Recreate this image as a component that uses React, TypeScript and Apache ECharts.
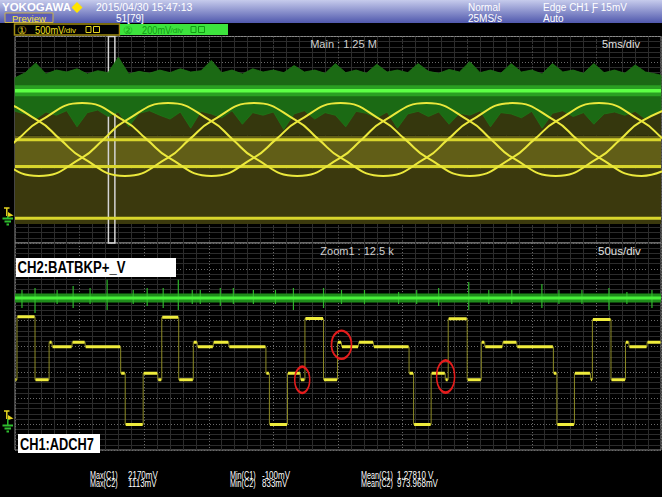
import React, { useEffect, useRef } from "react";
import * as echarts from "echarts";

// ---------------- MAIN WINDOW (5 ms/div, 1.25 M) ----------------
// CH1 (500 mV/div) three-phase envelope traces, [time ms, mV]
const phaseA = [[-4.8, 780], [-1.5, 1133], [0.2, 1487], [1.9, 1840], [5.2, 2190], [8.5, 1840], [10.2, 1487], [11.9, 1133], [15.2, 780], [18.5, 1133], [20.2, 1487], [21.9, 1840], [25.2, 2190], [28.5, 1840], [30.2, 1487], [31.9, 1133], [35.2, 780], [38.5, 1133], [40.2, 1487], [41.9, 1840], [45.2, 2190], [48.5, 1840], [50.2, 1487], [51.9, 1133]];
const phaseB = [[-8.15, 2190], [-4.8, 1840], [-3.15, 1487], [-1.5, 1133], [1.85, 780], [5.2, 1133], [6.85, 1487], [8.5, 1840], [11.85, 2190], [15.2, 1840], [16.85, 1487], [18.5, 1133], [21.85, 780], [25.2, 1133], [26.85, 1487], [28.5, 1840], [31.85, 2190], [35.2, 1840], [36.85, 1487], [38.5, 1133], [41.85, 780], [45.2, 1133], [46.85, 1487], [48.5, 1840], [51.85, 2190]];
const phaseC = [[-8.15, 1133], [-6.5, 1487], [-4.8, 1840], [-1.5, 2190], [1.85, 1840], [3.5, 1487], [5.2, 1133], [8.5, 780], [11.85, 1133], [13.5, 1487], [15.2, 1840], [18.5, 2190], [21.85, 1840], [23.5, 1487], [25.2, 1133], [28.5, 780], [31.85, 1133], [33.5, 1487], [35.2, 1840], [38.5, 2190], [41.85, 1840], [43.5, 1487], [45.2, 1133], [48.5, 780], [51.85, 1133]];
// CH1 flat traces (mV)
const ch1MainLevels = [1480, 962, -40];
// CH1 olive envelope bands [low mV, high mV]
const ch1MainBands = [[-151, 917], [917, 1558], [1558, 2179]];
// CH2 (200 mV/div) in main window
const ch2MainLevel = 980;
const ch2MainEnvTimes = [0, 0.8, 1.6, 2.4, 3.2, 4.0, 4.8, 5.6, 6.4, 7.2, 8.0, 8.8, 9.6, 10.4, 11.2, 12.0, 12.8, 13.6, 14.4, 15.2, 16.0, 16.8, 17.6, 18.4, 19.2, 20.0, 20.8, 21.6, 22.4, 23.2, 24.0, 24.8, 25.6, 26.4, 27.2, 28.0, 28.8, 29.6, 30.4, 31.2, 32.0, 32.8, 33.6, 34.4, 35.2, 36.0, 36.8, 37.6, 38.4, 39.2, 40.0, 40.8, 41.6, 42.4, 43.2, 44.0, 44.8, 45.6, 46.4, 47.2, 48.0, 48.8, 49.6, 50.0];
const ch2MainEnvTop = [1080, 1120, 1195, 1110, 1140, 1125, 1150, 1110, 1135, 1120, 1240, 1110, 1130, 1115, 1140, 1120, 1150, 1125, 1135, 1215, 1120, 1140, 1110, 1150, 1125, 1140, 1120, 1175, 1125, 1140, 1115, 1190, 1120, 1140, 1115, 1185, 1125, 1140, 1120, 1190, 1130, 1115, 1145, 1125, 1205, 1120, 1140, 1115, 1190, 1125, 1140, 1110, 1190, 1125, 1140, 1115, 1190, 1120, 1140, 1115, 1180, 1125, 1110, 1100];
const ch2MainEnvBottom = [820, 800, 760, 815, 790, 825, 700, 810, 830, 780, 815, 700, 805, 825, 790, 760, 815, 690, 820, 800, 770, 825, 720, 810, 790, 815, 680, 800, 825, 760, 810, 790, 700, 820, 805, 770, 815, 690, 800, 820, 780, 815, 720, 805, 790, 825, 700, 810, 800, 770, 820, 690, 805, 825, 780, 810, 720, 800, 815, 790, 820, 760, 810, 815];
// zoom window position inside the main window (ms)
const zoomWindowMs = [7.23, 7.73];

// ---------------- ZOOM WINDOW (50 us/div, 12.5 k) ----------------
// CH1 staircase: level (mV) starting at each time (us)
const zoomStepTimes = [0, 1.55, 15.5, 26.4, 28.7, 44.2, 54.3, 81.8, 85.3, 99.2, 110.5, 113.6, 126.7, 138.0, 141.1, 153.5, 165.5, 194.2, 196.9, 210.9, 220.9, 224.4, 238.8, 249.6, 252.7, 265.9, 277.5, 305.0, 308.5, 322.1, 333.0, 335.3, 350.0, 360.9, 363.6, 377.5, 388.4, 416.7, 419.4, 433.0, 445.4, 446.9, 461.3, 472.5, 475.2, 489.2];
const zoomStepLevels = [756, 1975, 756, 1482, 1395, 1482, 1395, 882, -106, 882, 756, 1965, 756, 1482, 1395, 1482, 1395, 882, -106, 882, 756, 1940, 756, 1482, 1395, 1482, 1395, 882, -106, 882, 756, 1935, 756, 1482, 1395, 1482, 1395, 882, -106, 882, 756, 1920, 756, 1482, 1395, 1482];
// CH2 in zoom window
const ch2ZoomLevel = 975;
const ch2ZoomSpikeTimes = [5.4, 15.5, 32.6, 45.0, 58.1, 71.3, 91.5, 102.3, 114.7, 126.4, 137.2, 143.4, 158.9, 169.0, 184.5, 201.6, 215.5, 238.8, 252.7, 270.5, 296.9, 310.9, 327.9, 351.2, 366.7, 384.5, 407.8, 421.0, 438.8, 459.7, 473.6, 493.0];
const ch2ZoomSpikeUp = [62, 78, 62, 93, 78, 140, 62, 78, 78, 140, 62, 62, 78, 78, 62, 62, 78, 78, 62, 62, 46, 62, 78, 124, 62, 62, 109, 62, 62, 78, 46, 62];
const ch2ZoomSpikeDown = [78, 116, 46, 78, 46, 93, 46, 62, 78, 93, 46, 46, 62, 46, 46, 46, 93, 78, 46, 46, 46, 46, 62, 93, 46, 46, 78, 46, 46, 93, 46, 78];
// red marks [time us, mV, width px, height px]
const zoomMarks = [[222.3, 756, 15, 26], [252.7, 1434, 20, 28], [333.3, 820, 18, 32]];

// ---------------- TEXT ----------------
const statLabels = [["Max(C1)", "2170mV"], ["Max(C2)", "1113mV"], ["Min(C1)", "-100mV"], ["Min(C2)", "833mV"], ["Mean(C1)", "1.27810 V"], ["Mean(C2)", "973.968mV"]];

const FONT = "'Liberation Sans', Arial, sans-serif";

function txt(x: number, y: number, text: string, font: string, fill: string, extra: any = {}, el: any = {}) {
  return { type: "text", x, y, z: 100, silent: true, ...el, style: { text, fill, font: `${font} ${FONT}`, textVerticalAlign: "middle", ...extra } };
}

function groundMarker(y: number, gy: number) {
  return [
    { type: "polyline", z: 100, shape: { points: [[4, y - 8], [9.5, y - 8]] }, style: { stroke: "#e6d620", lineWidth: 1.5 } },
    { type: "polyline", z: 100, shape: { points: [[6.8, y - 8], [6.8, y]] }, style: { stroke: "#e6d620", lineWidth: 1.5 } },
    { type: "polygon", z: 100, shape: { points: [[8, y - 4], [13.5, y - 0.5], [8, y + 1]] }, style: { fill: "#e6d620" } },
    { type: "polyline", z: 100, shape: { points: [[2.5, gy + 1.5], [13, gy + 1.5]] }, style: { stroke: "#2fbf2f", lineWidth: 2 } },
    { type: "polyline", z: 100, shape: { points: [[4.5, gy + 4.5], [11, gy + 4.5]] }, style: { stroke: "#2fbf2f", lineWidth: 2 } },
    { type: "polyline", z: 100, shape: { points: [[6.5, gy + 7.5], [9, gy + 7.5]] }, style: { stroke: "#2fbf2f", lineWidth: 2 } },
    { type: "polyline", z: 100, shape: { points: [[7.8, y], [7.8, gy + 1.5]] }, style: { stroke: "#2fbf2f", lineWidth: 1.5 } },
  ];
}

function buildOption() {
  const majorLine = { show: true, lineStyle: { color: "#6a6a6a", type: [1, 2], width: 1 } };
  const minorLine = { show: true, lineStyle: { color: "#2c2c2c", width: 1 } };
  const hiddenBits = { axisLine: { show: false }, axisTick: { show: false }, axisLabel: { show: false } };

  // zoom staircase
  const stairs: any[] = [];
  const flats: any[] = [];
  zoomStepTimes.forEach((t, i) => {
    const end = i + 1 < zoomStepTimes.length ? zoomStepTimes[i + 1] : 500;
    stairs.push([t, zoomStepLevels[i]], [end, zoomStepLevels[i]]);
    flats.push([t + 0.4, zoomStepLevels[i]], [Math.max(t + 0.8, end - 0.4), zoomStepLevels[i]], [end, null]);
  });

  const spikes: any[] = [];
  ch2ZoomSpikeTimes.forEach((t, i) => {
    spikes.push([t, ch2ZoomLevel - ch2ZoomSpikeDown[i]], [t, ch2ZoomLevel + ch2ZoomSpikeUp[i]], [t, null]);
  });

  const levelLines: any[] = [];
  ch1MainLevels.forEach((v) => levelLines.push([0, v], [50, v], [50, null]));

  const bandColors = ["#3b390d", "#615e17", "#35370d"];

  const graphic: any[] = [
    {
      type: "rect", z: 90, shape: { x: 0, y: 0, width: 662, height: 23 },
      style: { fill: new echarts.graphic.LinearGradient(0, 0, 0, 1, [{ offset: 0, color: "#c6cbec" }, { offset: 1, color: "#5058ad" }]) },
    },
    txt(2, 7, "YOKOGAWA", "bold 11.5px", "#ffffff"),
    { type: "polygon", z: 100, shape: { points: [[77, 2], [82.5, 7.5], [77, 13], [71.5, 7.5]] }, style: { fill: "#ffe400" } },
    { type: "rect", z: 100, shape: { x: 5, y: 13, width: 48, height: 9.5 }, style: { fill: "#5a5cb8", stroke: "#c9b24a", lineWidth: 1 } },
    txt(12, 18, "Preview", "9.5px", "#f7e640"),
    txt(96, 7, "2015/04/30 15:47:13", "10.5px", "#ffffff"),
    txt(116, 18, "51[79]", "10px", "#ffffff"),
    txt(468, 7, "Normal", "10px", "#ffffff"),
    txt(468, 18, "25MS/s", "10px", "#ffffff"),
    txt(543, 7, "Edge CH1 Ƒ 15mV", "10px", "#ffffff"),
    txt(543, 18, "Auto", "10px", "#ffffff"),
    // channel boxes
    { type: "rect", z: 100, shape: { x: 14.5, y: 24, width: 105, height: 11 }, style: { fill: "#000000", stroke: "#a08c12", lineWidth: 1.5 } },
    txt(16.5, 29.8, "①", "11px", "#e8d820"),
    txt(35, 29.8, "500mV", "10.5px", "#f2e21e", {}, { scaleX: 0.88 }),
    txt(63.5, 30.5, "/div", "8px", "#f2e21e"),
    { type: "rect", z: 100, shape: { x: 86, y: 26.5, width: 5, height: 6 }, style: { fill: "none", stroke: "#e8d820", lineWidth: 1 } },
    { type: "rect", z: 100, shape: { x: 93.5, y: 26.5, width: 6, height: 6 }, style: { fill: "none", stroke: "#e8d820", lineWidth: 1 } },
    { type: "rect", z: 100, shape: { x: 120, y: 24, width: 108, height: 11 }, style: { fill: "#3de43d" } },
    txt(122.5, 29.8, "②", "11px", "#17a317"),
    txt(142, 29.8, "200mV", "10.5px", "#139a13", {}, { scaleX: 0.88 }),
    txt(170.5, 30.5, "/div", "8px", "#139a13"),
    { type: "rect", z: 100, shape: { x: 191, y: 26.5, width: 5, height: 6 }, style: { fill: "none", stroke: "#139a13", lineWidth: 1 } },
    { type: "rect", z: 100, shape: { x: 198.5, y: 26.5, width: 6, height: 6 }, style: { fill: "none", stroke: "#139a13", lineWidth: 1 } },
    // panel labels
    txt(343.5, 43.5, "Main : 1.25 M", "11px", "#cfcfcf", { textAlign: "center" }),
    txt(602, 44, "5ms/div", "11px", "#e2e2e2"),
    txt(357, 251, "Zoom1 : 12.5 k", "11px", "#cfcfcf", { textAlign: "center" }),
    txt(598, 251, "50us/div", "11.5px", "#e2e2e2"),
    // white signal labels
    { type: "rect", z: 100, shape: { x: 16, y: 258, width: 160, height: 19 }, style: { fill: "#ffffff" } },
    txt(17.5, 268, "CH2:BATBKP+_V", "bold 16px", "#000000", {}, { scaleX: 0.82 }),
    { type: "rect", z: 100, shape: { x: 18, y: 434, width: 82, height: 19 }, style: { fill: "#ffffff" } },
    txt(20, 444, "CH1:ADCH7", "bold 16px", "#000000", {}, { scaleX: 0.8 }),
    ...groundMarker(216, 217),
    ...groundMarker(419, 424),
  ];

  statLabels.forEach(([name, value], i) => {
    const col = Math.floor(i / 2);
    const row = i % 2;
    const xs = [[90, 128], [230, 262], [361, 397]][col];
    const y = row === 0 ? 475.5 : 483.5;
    graphic.push(txt(xs[0], y, name, "10px", "#ffffff", {}, { scaleX: 0.72 }));
    graphic.push(txt(xs[1], y, value, "10px", "#ffffff", {}, { scaleX: 0.8 }));
  });

  const base = { type: "line", symbol: "none", silent: true, animation: false };

  return {
    animation: false,
    backgroundColor: "#000000",
    grid: [
      { left: 15, top: 36.5, width: 646, height: 206.5, show: true, backgroundColor: "#000000", borderColor: "#8a8a8a", borderWidth: 1 },
      { left: 15, top: 243, width: 646, height: 207, show: true, backgroundColor: "#000000", borderColor: "#8a8a8a", borderWidth: 1 },
    ],
    xAxis: [
      { type: "value", gridIndex: 0, min: 0, max: 50, interval: 5, ...hiddenBits, splitLine: majorLine, minorTick: { show: false, splitNumber: 5 }, minorSplitLine: minorLine },
      { type: "value", gridIndex: 1, min: 0, max: 500, interval: 50, ...hiddenBits, splitLine: majorLine, minorTick: { show: false, splitNumber: 5 }, minorSplitLine: minorLine },
    ],
    yAxis: [
      { type: "value", gridIndex: 0, min: -200, max: 1400, interval: 200, ...hiddenBits, splitLine: majorLine, minorTick: { show: false, splitNumber: 5 }, minorSplitLine: minorLine },
      { type: "value", gridIndex: 0, min: -520, max: 3480, show: false, position: "right" },
      { type: "value", gridIndex: 1, min: -200, max: 1400, interval: 200, ...hiddenBits, splitLine: majorLine, minorTick: { show: false, splitNumber: 5 }, minorSplitLine: minorLine },
      { type: "value", gridIndex: 1, min: -600, max: 3400, show: false, position: "right" },
    ],
    graphic,
    series: [
      // olive envelope bands (CH1 main)
      {
        ...base, name: "bands", xAxisIndex: 0, yAxisIndex: 1, data: [[0, -40]], lineStyle: { width: 0, opacity: 0 },
        markArea: {
          silent: true, label: { show: false },
          data: ch1MainBands.map(([lo, hi], i) => [{ xAxis: 0, yAxis: lo, itemStyle: { color: bandColors[i] } }, { xAxis: 50, yAxis: hi }]),
        },
      },
      // CH2 main noise envelope (polygon through the axes)
      {
        type: "custom", name: "ch2Env", xAxisIndex: 0, yAxisIndex: 0, silent: true, animation: false,
        data: [[0, ch2MainLevel]],
        renderItem: (params: any, api: any) => {
          if (params.dataIndex !== 0) return null;
          const pts: number[][] = [];
          ch2MainEnvTimes.forEach((t, i) => pts.push(api.coord([t, ch2MainEnvTop[i]])));
          for (let i = ch2MainEnvTimes.length - 1; i >= 0; i--) pts.push(api.coord([ch2MainEnvTimes[i], ch2MainEnvBottom[i]]));
          return { type: "polygon", shape: { points: pts }, style: { fill: "#1b6a14", stroke: "#1f7517", lineWidth: 0.8 } };
        },
      },
      { ...base, name: "ch2Glow", xAxisIndex: 0, yAxisIndex: 0, data: [[0, ch2MainLevel], [50, ch2MainLevel]], lineStyle: { width: 11, color: "#2a9f22" } },
      { ...base, name: "ch2Main", xAxisIndex: 0, yAxisIndex: 0, data: [[0, ch2MainLevel], [50, ch2MainLevel]], lineStyle: { width: 3.5, color: "#5dff45" } },
      // CH1 main flat traces + zoom window box
      {
        ...base, name: "ch1Levels", xAxisIndex: 0, yAxisIndex: 1, data: levelLines, lineStyle: { width: 3, color: "#d8d52c" },
        markArea: {
          silent: true, label: { show: false },
          itemStyle: { color: "rgba(0,0,0,0)", borderColor: "#d4d4d4", borderWidth: 1.5 },
          data: [[{ xAxis: zoomWindowMs[0] }, { xAxis: zoomWindowMs[1] }]],
        },
      },
      { ...base, name: "phaseA", xAxisIndex: 0, yAxisIndex: 1, smooth: 0.5, data: phaseA, lineStyle: { width: 2, color: "#ebe83c" } },
      { ...base, name: "phaseB", xAxisIndex: 0, yAxisIndex: 1, smooth: 0.5, data: phaseB, lineStyle: { width: 2, color: "#ebe83c" } },
      { ...base, name: "phaseC", xAxisIndex: 0, yAxisIndex: 1, smooth: 0.5, data: phaseC, lineStyle: { width: 2, color: "#ebe83c" } },
      // zoom CH2
      { ...base, name: "ch2ZoomHaze", xAxisIndex: 1, yAxisIndex: 2, data: [[0, ch2ZoomLevel], [500, ch2ZoomLevel]], lineStyle: { width: 9, color: "#1f8c1b" } },
      { ...base, name: "ch2ZoomSpikes", xAxisIndex: 1, yAxisIndex: 2, data: spikes, lineStyle: { width: 1.2, color: "#2eb52a" } },
      { ...base, name: "ch2Zoom", xAxisIndex: 1, yAxisIndex: 2, data: [[0, ch2ZoomLevel], [500, ch2ZoomLevel]], lineStyle: { width: 3, color: "#48ef3a" } },
      // zoom CH1
      { ...base, name: "ch1Stairs", xAxisIndex: 1, yAxisIndex: 3, data: stairs, lineStyle: { width: 1, color: "#8d8b26" } },
      {
        ...base, name: "ch1Flats", xAxisIndex: 1, yAxisIndex: 3, data: flats, lineStyle: { width: 3, color: "#efec3c" },
        markPoint: {
          silent: true, label: { show: false }, symbol: "circle",
          itemStyle: { color: "rgba(0,0,0,0)", borderColor: "#e41c1c", borderWidth: 2 },
          data: zoomMarks.map(([t, v, w, h]) => ({ coord: [t, v], symbolSize: [w, h] })),
        },
      },
    ],
  };
}

export default function App() {
  const ref = useRef<HTMLDivElement>(null);
  useEffect(() => {
    if (!ref.current) return;
    const chart = echarts.init(ref.current, undefined, { renderer: "svg" });
    chart.setOption(buildOption() as any);
    return () => chart.dispose();
  }, []);
  return <div ref={ref} style={{ position: "absolute", left: 0, top: 0, width: 662, height: 497 }} />;
}
